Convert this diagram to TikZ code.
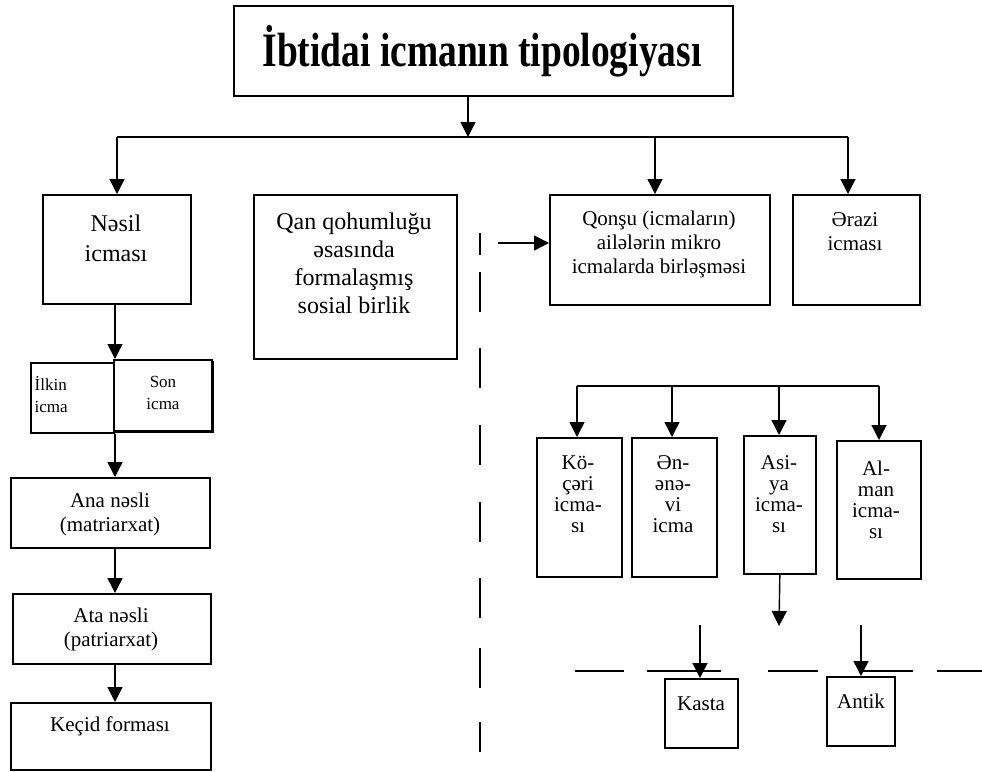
\documentclass[tikz,border=0pt]{standalone}
\usepackage{fontspec}
\setmainfont{Liberation Serif}
\usetikzlibrary{arrows.meta}
\begin{document}
\begin{tikzpicture}[x=1pt,y=-1pt,line width=1.4pt,
  box/.style={draw,line width=1.7pt,inner sep=0pt,anchor=north west},
  txt/.style={align=center,inner sep=0pt,font=\fontsize{21}{24}\selectfont},
  bigtxt/.style={align=center,inner sep=0pt,font=\fontsize{24}{28}\selectfont},
  smalltxt/.style={align=center,inner sep=0pt,font=\fontsize{17}{22}\selectfont},
  arr/.style={-{Triangle[length=15pt,width=15pt]},line width=1.4pt}]
\useasboundingbox (0,0) rectangle (982,771);
% boxes
\node[box,minimum width=499pt,minimum height=90pt] (title) at (233,5) {};
\node[box,minimum width=148pt,minimum height=109pt] (nesil) at (42,194) {};
\node[box,minimum width=203pt,minimum height=164pt] (qan) at (253,194) {};
\node[box,minimum width=220pt,minimum height=110pt] (qonsu) at (549,194) {};
\node[box,minimum width=127pt,minimum height=110pt] (erazi) at (792,194) {};
\node[box,minimum width=83pt,minimum height=70pt] (ilkin) at (30,362) {};
\draw[line width=1pt] (213,361) -- (213,432) -- (115,432);
\node[box,fill=white,minimum width=98pt,minimum height=71pt] (son) at (113,359) {};
\node[box,minimum width=199pt,minimum height=70pt] (ana) at (10,477) {};
\node[box,minimum width=198pt,minimum height=70pt] (ata) at (12,593) {};
\node[box,minimum width=200pt,minimum height=67pt] (kecid) at (10,702) {};
\node[box,minimum width=85pt,minimum height=139pt] (kocheri) at (536,437) {};
\node[box,minimum width=85pt,minimum height=139pt] (enenevi) at (631,437) {};
\node[box,minimum width=72pt,minimum height=138pt] (asiya) at (743,435) {};
\node[box,minimum width=84pt,minimum height=138pt] (alman) at (836,440) {};
\node[box,minimum width=73pt,minimum height=69pt] (kasta) at (664,678) {};
\node[box,minimum width=68pt,minimum height=69pt] (antik) at (826,676) {};
% texts
\node[inner sep=0pt,anchor=base,font=\fontsize{48}{50}\selectfont\bfseries] (titlet) at (482,66) {\scalebox{0.78}[1]{İbtidai icmanın tipologiyası}};
\node[bigtxt,font=\fontsize{24}{30}\selectfont] (nesilt) at (116,238) {Nəsil\\icması};
\node[bigtxt] (qant) at (354,263) {Qan qohumluğu\\əsasında\\formalaşmış\\sosial birlik};
\node[txt] (qonsut) at (659,244) {Qonşu (icmaların)\\ailələrin mikro\\icmalarda birləşməsi};
\node[txt] (erazit) at (855,232) {Ərazi\\icması};
\node[smalltxt,align=left,anchor=west] (ilkint) at (34,395) {İlkin\\icma};
\node[smalltxt] (sont) at (163,393) {Son\\icma};
\node[txt] (anat) at (110,514) {Ana nəsli\\(matriarxat)};
\node[txt] (atat) at (111,629) {Ata nəsli\\(patriarxat)};
\node[txt] (kecidt) at (110,726) {Keçid forması};
\node[txt,font=\fontsize{21}{21}\selectfont] (kochert) at (578,494) {Kö-\\çəri\\icma-\\sı};
\node[txt,font=\fontsize{21}{21}\selectfont] (enenevit) at (673,494) {Ən-\\ənə-\\vi\\icma};
\node[txt,font=\fontsize{21}{21}\selectfont] (asiyat) at (779,494) {Asi-\\ya\\icma-\\sı};
\node[txt,font=\fontsize{21}{21}\selectfont] (almant) at (876,500) {Al-\\man\\icma-\\sı};
\node[txt] (kastat) at (701,704) {Kasta};
\node[txt] (antikt) at (861,701) {Antik};
% top connectors
\coordinate (hub) at (468,137);
\coordinate (hl) at (117,137);
\coordinate (hr) at (848,137);
\coordinate (hq) at (655,137);
\draw[arr] (hub |- title.south) -- (hub);
\draw (hl) -- (hr);
\draw[arr] (hl) -- (hl |- nesil.north);
\draw[arr] (hq) -- (hq |- qonsu.north);
\draw[arr] (hr) -- (hr |- erazi.north);
% left column
\coordinate (lx) at (115,0);
\draw[arr] (lx |- nesil.south) -- (lx |- son.north);
\draw[arr] (lx |- ilkin.south) -- (lx |- ana.north);
\draw[arr] (lx |- ana.south) -- (lx |- ata.north);
\draw[arr] (lx |- ata.south) -- (lx |- kecid.north);
% dashed divider and side arrow
\coordinate (d1) at (480,233);
\coordinate (d2) at (480,752);
\draw[line width=1.4pt,dash pattern=on 22pt off 17pt on 40pt off 36pt on 40pt off 37pt on 40pt off 37pt on 40pt off 36pt on 40pt off 30pt on 40pt off 34pt on 30pt off 10pt] (d1) -- (d2);
\coordinate (ha) at (498,243);
\draw[arr] (ha) -- (ha -| qonsu.west);
% bottom right group
\coordinate (bl) at (577,386);
\coordinate (br) at (879,386);
\coordinate (be) at (672,386);
\coordinate (ba) at (779,386);
\draw (bl) -- (br);
\draw[arr] (bl) -- (bl |- kocheri.north);
\draw[arr] (be) -- (be |- enenevi.north);
\draw[arr] (ba) -- (ba |- asiya.north);
\draw[arr] (br) -- (br |- alman.north);
\coordinate (at) at (779,626);
\draw[arr] (asiya.south) -- (at);
\coordinate (ka) at (700,625);
\coordinate (na) at (861,625);
\coordinate (h1) at (575,671);
\coordinate (h2) at (982,671);
\draw[line width=1.4pt,dash pattern=on 49pt off 23pt on 74pt off 47pt on 50pt off 45pt on 50pt off 24pt on 45pt off 10pt] (h1) -- (h2);
\draw[arr] (ka) -- (ka |- kasta.north);
\draw[arr] (na) -- (na |- antik.north);
\end{tikzpicture}
\end{document}
